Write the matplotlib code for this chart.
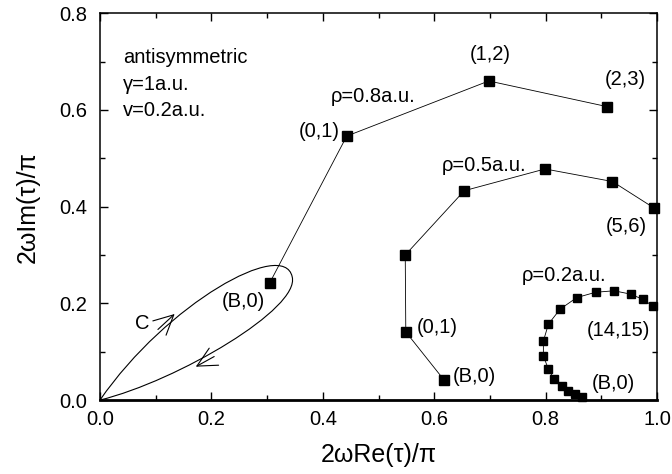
import matplotlib
matplotlib.use("Agg")
import matplotlib.pyplot as plt
from matplotlib.path import Path
from matplotlib.patches import PathPatch
from matplotlib.ticker import MultipleLocator

plt.rcParams['font.family'] = ['Liberation Sans', 'DejaVu Sans']

# trajectories in the complex tau plane
rho08_x = [0.305, 0.443, 0.698, 0.910]
rho08_y = [0.243, 0.546, 0.660, 0.607]

rho05_x = [0.618, 0.549, 0.548, 0.654, 0.799, 0.920, 0.995]
rho05_y = [0.041, 0.141, 0.300, 0.433, 0.478, 0.452, 0.397]

rho02_x = [0.865, 0.853, 0.841, 0.829, 0.815, 0.805, 0.796, 0.796,
           0.805, 0.826, 0.856, 0.890, 0.923, 0.953, 0.975, 0.993]
rho02_y = [0.007, 0.012, 0.019, 0.029, 0.043, 0.064, 0.091, 0.122,
           0.157, 0.188, 0.212, 0.223, 0.226, 0.219, 0.208, 0.194]

# integration contour C (bezier control points)
contour_pts = [(0.0, 0.0), (0.12, 0.20), (0.33, 0.335), (0.345, 0.255),
               (0.36, 0.19), (0.14, 0.04), (0.0, 0.0)]

fig = plt.figure(figsize=(6.72, 4.74), dpi=100)
ax = fig.add_axes([0.1488, 0.156, 0.8289, 0.816])

mk = dict(color='black', marker='s', linewidth=0.6, clip_on=False)
ax.plot(rho08_x, rho08_y, markersize=6.5, **mk)
ax.plot(rho05_x, rho05_y, markersize=6.5, **mk)
ax.plot(rho02_x, rho02_y, markersize=6.3, **mk)

codes = [Path.MOVETO] + [Path.CURVE4] * 6
ax.add_patch(PathPatch(Path(contour_pts, codes), facecolor='none',
                       edgecolor='black', linewidth=0.8))
ax.annotate('', xy=(0.134, 0.178), xytext=(0.104, 0.146),
            arrowprops=dict(arrowstyle='->,head_length=0.7,head_width=0.35',
                            lw=0.8, mutation_scale=20, shrinkA=0, shrinkB=0))
ax.annotate('', xy=(0.172, 0.069), xytext=(0.205, 0.090),
            arrowprops=dict(arrowstyle='->,head_length=0.7,head_width=0.35',
                            lw=0.8, mutation_scale=20, shrinkA=0, shrinkB=0))

fs = 14.5
ax.text(0.075, 0.159, 'C', fontsize=fs, ha='center', va='center')
ax.text(0.041, 0.708, 'antisymmetric', fontsize=fs, va='center')
ax.text(0.041, 0.652, 'γ=1a.u.', fontsize=fs, va='center')
ax.text(0.041, 0.598, 'v=0.2a.u.', fontsize=fs, va='center')

# rho = 0.8
ax.text(0.415, 0.627, 'ρ=0.8a.u.', fontsize=fs, va='center')
ax.text(0.431, 0.555, '(0,1)', fontsize=fs, ha='right', va='center')
ax.text(0.700, 0.714, '(1,2)', fontsize=fs, ha='center', va='center')
ax.text(0.907, 0.664, '(2,3)', fontsize=fs, va='center')
ax.text(0.296, 0.203, '(B,0)', fontsize=fs, ha='right', va='center')

# rho = 0.5
ax.text(0.614, 0.486, 'ρ=0.5a.u.', fontsize=fs, va='center')
ax.text(0.944, 0.360, '(5,6)', fontsize=fs, ha='center', va='center')
ax.text(0.569, 0.151, '(0,1)', fontsize=fs, va='center')
ax.text(0.634, 0.048, '(B,0)', fontsize=fs, va='center')

# rho = 0.2
ax.text(0.833, 0.257, 'ρ=0.2a.u.', fontsize=fs, ha='center', va='center')
ax.text(0.930, 0.143, '(14,15)', fontsize=fs, ha='center', va='center')
ax.text(0.921, 0.035, '(B,0)', fontsize=fs, ha='center', va='center')

ax.set_xlim(0, 1.0)
ax.set_ylim(0, 0.8)
ax.xaxis.set_major_locator(MultipleLocator(0.2))
ax.xaxis.set_minor_locator(MultipleLocator(0.1))
ax.yaxis.set_major_locator(MultipleLocator(0.2))
ax.yaxis.set_minor_locator(MultipleLocator(0.1))
ax.xaxis.set_major_formatter(plt.FormatStrFormatter('%.1f'))
ax.yaxis.set_major_formatter(plt.FormatStrFormatter('%.1f'))
ax.tick_params(which='both', direction='in', top=True, right=True,
               labelsize=14.5, width=1)
ax.tick_params(which='major', length=6)
ax.tick_params(which='minor', length=3.5)
ax.tick_params(axis='x', which='major', pad=7)
ax.tick_params(axis='y', which='major', pad=9)
for s in ax.spines.values():
    s.set_linewidth(1.1)
ax.spines['bottom'].set_linewidth(2)

ax.set_xlabel('2ωRe(τ)/π', fontsize=18, labelpad=10)
ax.set_ylabel('2ωIm(τ)/π', fontsize=18, labelpad=14)

fig.savefig('out.png', dpi=100)
